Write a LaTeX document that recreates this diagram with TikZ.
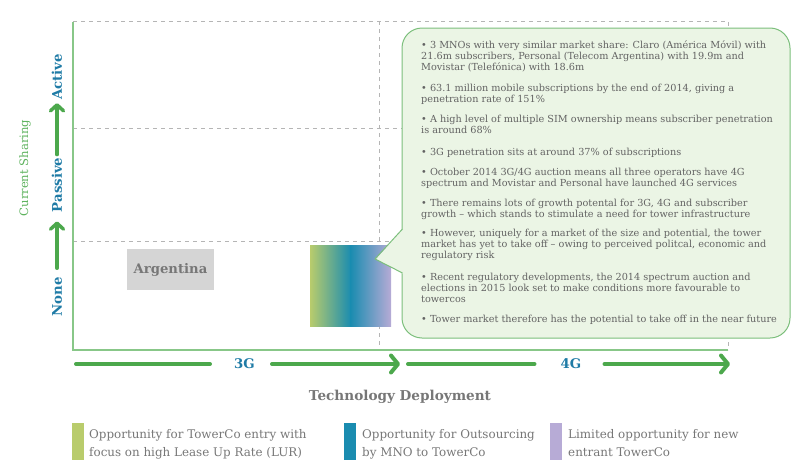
\documentclass[tikz,border=0pt]{standalone}
\usepackage{fontspec}
\setmainfont{DejaVu Serif}
\usetikzlibrary{arrows.meta}
\definecolor{agreen}{HTML}{4CA84C}
\definecolor{fgreen}{HTML}{88C788}
\definecolor{sgreen}{HTML}{5DB25D}
\definecolor{tblue}{HTML}{1F7BA6}
\definecolor{dgray}{HTML}{B5B5B5}
\definecolor{txtgray}{HTML}{636363}
\definecolor{leggray}{HTML}{777777}
\definecolor{gA}{HTML}{B9CC6C}
\definecolor{gB}{HTML}{1A8CB0}
\definecolor{gC}{HTML}{B7ABD6}
\definecolor{cfill}{HTML}{EBF5E5}
\definecolor{cline}{HTML}{7CBF7C}
\definecolor{argfill}{HTML}{D5D5D5}
\definecolor{argtext}{HTML}{777777}
\begin{document}
\begin{tikzpicture}[x=1pt,y=-1pt,
  harrow/.style={draw=agreen, line width=4pt, line cap=round,
    -{Straight Barb[length=7pt,width=17pt,line cap=round,line join=round]}},
  hline/.style={draw=agreen, line width=4pt, line cap=round},
  varrow/.style={draw=agreen, line width=3.5pt, line cap=round,
    -{Straight Barb[length=6pt,width=13pt,line cap=round,line join=round]}},
  grid/.style={draw=dgray, line width=0.9pt, dash pattern=on 4pt off 4pt},
  frame/.style={draw=fgreen, line width=1.8pt},
  axlab/.style={text=tblue, font=\bfseries\fontsize{13.3}{15}\selectfont, inner sep=0pt},
  bul/.style={anchor=base west, inner sep=0pt, text=txtgray,
    font=\fontsize{9.7}{11.4}\selectfont},
  legbar/.style={anchor=north west, inner sep=0pt, minimum width=12pt, minimum height=37pt},
  legtxt/.style={anchor=base west, inner sep=0pt, text=leggray,
    font=\fontsize{11.9}{18}\selectfont},
]
\path[use as bounding box] (0,0) rectangle (800,463);

% grid
\draw[grid] (73,21) -- (728,21) -- (728,350);
\draw[grid] (73,128) -- (728,128);
\draw[grid] (73,241) -- (728,241);
\draw[grid] (379,21) -- (379,350);
% frame
\draw[frame] (73,22) -- (73,350) -- (728,350);

% Argentina
\node[fill=argfill, minimum width=87pt, minimum height=41pt, inner sep=0pt,
  text=argtext, font=\bfseries\fontsize{13.2}{15}\selectfont] (arg) at (170.5,269.5) {Argentina};

% gradient block
\shade[left color=gA, right color=gB] (310,245) rectangle (351,326);
\shade[left color=gB, right color=gC] (350.5,245) rectangle (391,326);
\coordinate (grad) at (350,285);

% callout
\draw[draw=cline, fill=cfill, line width=1pt, rounded corners=20pt] (402,28) rectangle (790,338);
\fill[cfill] (376,259) -- (403.5,228) -- (403.5,274) -- cycle;
\draw[draw=cline, line width=1pt, line join=round] (402.5,229) -- (375,259) -- (402.5,273);
\coordinate (tip) at (375,259);

% bullets
\node[bul] (b1) at (421,48) {\parbox[t]{375pt}{\raggedright • 3 MNOs with very similar market share: Claro (América Móvil) with\\21.6m subscribers, Personal (Telecom Argentina) with 19.9m and\\Movistar (Telefónica) with 18.6m}};
\node[bul] (b2) at (421,91) {\parbox[t]{375pt}{\raggedright • 63.1 million mobile subscriptions by the end of 2014, giving a\\penetration rate of 151\%}};
\node[bul] (b3) at (421,122) {\parbox[t]{375pt}{\raggedright • A high level of multiple SIM ownership means subscriber penetration\\is around 68\%}};
\node[bul] (b4) at (421,155) {\parbox[t]{375pt}{\raggedright • 3G penetration sits at around 37\% of subscriptions}};
\node[bul] (b5) at (421,175) {\parbox[t]{375pt}{\raggedright • October 2014 3G/4G auction means all three operators have 4G\\spectrum and Movistar and Personal have launched 4G services}};
\node[bul] (b6) at (421,206) {\parbox[t]{375pt}{\raggedright • There remains lots of growth potental for 3G, 4G and subscriber\\growth – which stands to stimulate a need for tower infrastructure}};
\node[bul] (b7) at (421,236) {\parbox[t]{375pt}{\raggedright • However, uniquely for a market of the size and potential, the tower\\market has yet to take off – owing to perceived politcal, economic and\\regulatory risk}};
\node[bul] (b8) at (421,280) {\parbox[t]{375pt}{\raggedright • Recent regulatory developments, the 2014 spectrum auction and\\elections in 2015 look set to make conditions more favourable to\\towercos}};
\node[bul] (b9) at (421,322) {\parbox[t]{375pt}{\raggedright • Tower market therefore has the potential to take off in the near future}};

% vertical axis
\node[axlab, rotate=90] (none) at (57,297) {None};
\node[axlab, rotate=90] (passive) at (57,185) {Passive};
\node[axlab, rotate=90] (active) at (57,77) {Active};
\draw[varrow, shorten <=9pt, shorten >=9pt] (none.east) -- (passive.west);
\draw[varrow, shorten <=3pt, shorten >=3pt] (passive.east) -- (active.west);
\node[rotate=90, text=sgreen, inner sep=0pt, font=\fontsize{11.6}{14}\selectfont] (cs) at (25,168) {Current Sharing};

% horizontal axis
\coordinate (h0) at (76,364);
\coordinate (h1) at (400,364);
\coordinate (h2) at (408,364);
\coordinate (h3) at (730,364);
\node[axlab] (g3) at (244.5,364) {3G};
\node[axlab] (g4) at (571,364) {4G};
\draw[hline, shorten >=24pt] (h0) -- (g3.west);
\draw[harrow, shorten <=17pt] (g3.east) -- (h1);
\draw[hline, shorten >=26pt] (h2) -- (g4.west);
\draw[harrow, shorten <=23pt] (g4.east) -- (h3);
\node[text=argtext, inner sep=0pt, font=\bfseries\fontsize{13.6}{15}\selectfont] (td) at (400,397) {Technology Deployment};

% legend
\node[legbar, fill=gA] (l1) at (72,423) {};
\node[legbar, fill=gB] (l2) at (344,423) {};
\node[legbar, fill=gC] (l3) at (550,423) {};
\node[legtxt] (t1) at (89,438) {\parbox[t]{250pt}{Opportunity for TowerCo entry with\\focus on high Lease Up Rate (LUR)}};
\node[legtxt] (t2) at (362,438) {\parbox[t]{190pt}{Opportunity for Outsourcing\\by MNO to TowerCo}};
\node[legtxt] (t3) at (568,438) {\parbox[t]{220pt}{Limited opportunity for new\\entrant TowerCo}};
\end{tikzpicture}
\end{document}
